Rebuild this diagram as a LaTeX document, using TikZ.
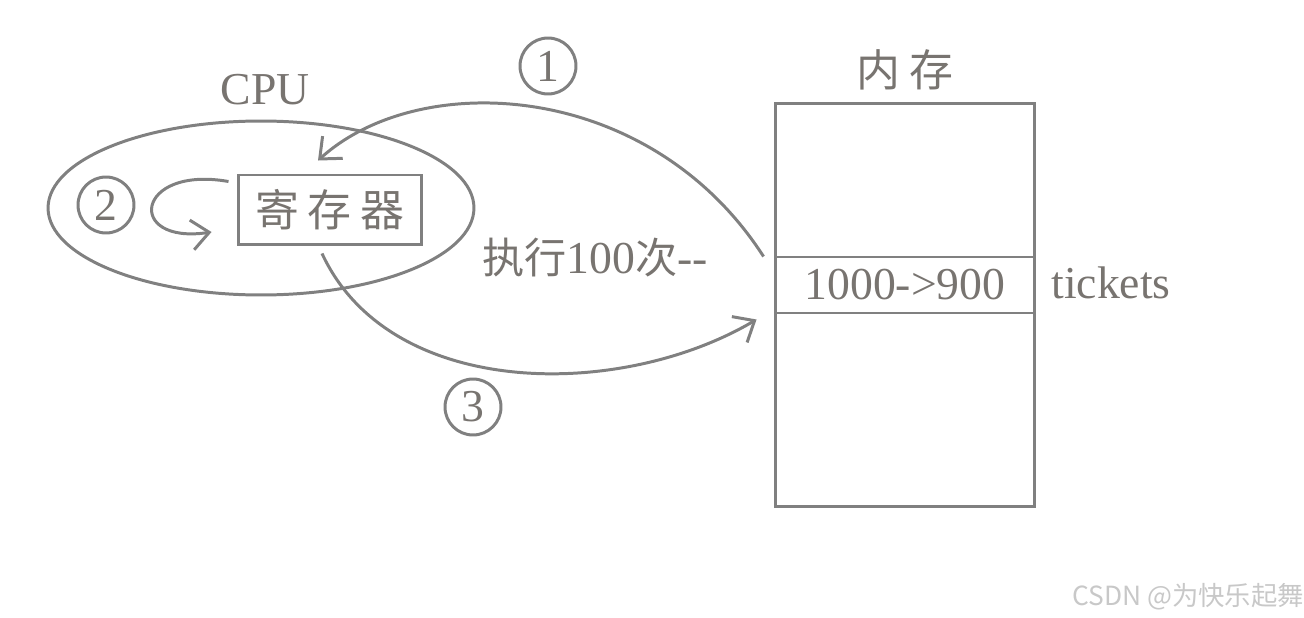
\documentclass[tikz,border=0pt]{standalone}
\usepackage{fontspec}
\setmainfont{Liberation Serif}
\newfontfamily\cjk{Noto Sans CJK SC}
\usetikzlibrary{arrows.meta, positioning, calc, shapes.geometric}
\definecolor{pen}{RGB}{128,128,128}
\definecolor{ink}{RGB}{120,116,112}
\definecolor{mark}{RGB}{200,200,200}

\begin{document}
\begin{tikzpicture}[x=0.02cm, y=-0.02cm, color=pen, line width=1.7pt,
  box/.style={draw, inner sep=0pt},
  num/.style={draw, circle, minimum size=1.12cm, inner sep=0pt, text=ink, font=\fontsize{26}{28}\selectfont},
  lbl/.style={text=ink, font=\fontsize{26}{30}\selectfont},
  hanzi/.style={text=ink, font=\cjk\fontsize{25}{30}\selectfont},
  flow/.style={-{Straight Barb[length=3.5mm, width=6mm]}}]
  \useasboundingbox (0,0) rectangle (1304,618);
  % CPU
  \node[draw, ellipse, minimum width=8.52cm, minimum height=3.48cm, inner sep=0pt] (cpu) at (261,208) {};
  \node[lbl] (cpuname) at (265,90) {CPU};
  \node[box, hanzi, minimum width=3.68cm, minimum height=1.4cm] (reg) at (330,210) {寄\hspace{0.2em}存\hspace{0.2em}器};
  \node[num] (n2) at (106,205) {2};
  \draw[flow] ($(reg.north west)+(-8,8)$) .. controls (135,165) and (125,245) .. ($(reg.west)+(-25,22)$);
  % 内存
  \node[box, minimum width=5.2cm, minimum height=8.08cm] (mem) at (905,305) {};
  \node[box, lbl, minimum width=5.2cm, minimum height=1.12cm] (cell) at (905,285) {1000->900};
  \node[hanzi] (memname) at (905,70) {内\hspace{0.2em}存};
  \node[lbl, anchor=west] (tickets) at (1044,283) {tickets};
  % read / write back
  \draw[flow] ($(cell.north west)+(-10,1)$) .. controls (650,80) and (420,68) .. ($(reg.north)+(-12,-13)$);
  \node[num] (n1) at (548,66) {1};
  \draw[flow] ($(reg.south)+(-8,7)$) .. controls (390,400) and (620,400) .. ($(cell.south west)+(-17,5)$);
  \node[num] (n3) at (473,407) {3};
  \node[lbl] (times) at (595,258) {{\cjk\fontsize{24}{28}\selectfont 执行}100{\cjk\fontsize{24}{28}\selectfont 次}-{}-};
  \node[text=mark, font=\cjk\fontsize{15}{18}\selectfont] (wm) at (1188,597) {CSDN @为快乐起舞};
\end{tikzpicture}
\end{document}
